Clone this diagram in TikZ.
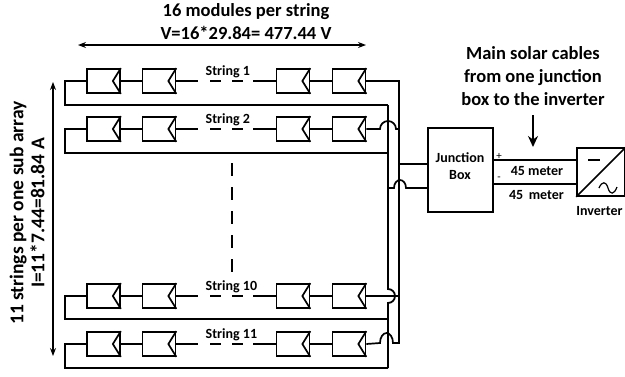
\documentclass[tikz,border=0pt]{standalone}
\usepackage{fontspec}
\setmainfont{Carlito}
\usetikzlibrary{arrows.meta}
\tikzset{
wire/.style = {line width = 1.7pt},
bus/.style = {line width = 1.8pt},
module/.style = {shape = rectangle, draw, line width = 1.7pt, minimum width = 33pt, minimum height = 24pt, inner sep = 0pt},
span/.style = {line width = 1.1pt, {Stealth[length = 8pt, width = 6pt]}-{Stealth[length = 8pt, width = 6pt]}},
title/.style = {font = \bfseries\fontsize{18.5}{23}\selectfont, align = center},
small/.style = {font = \bfseries\fontsize{14}{17}\selectfont, align = center}
}
\newcommand{\Module}[3]{
\node[module] (#1) at (#2, #3) {};
\draw[wire] (#1.north east) -- ([xshift = -8pt]#1.east) -- (#1.south east);
}
\begin{document}
\begin{tikzpicture}[x = 1pt, y = -1pt]
\useasboundingbox (0, 0) rectangle (625, 376);
% strings: name, row centre, label centre, return line
\foreach \n/\y/\ly/\r/\s in {a/81/72/105/1, b/129/120/153/2, c/296/287/319/10, d/344/335/368/11} {
\Module{\n1}{103.5}{\y}
\Module{\n2}{159}{\y}
\Module{\n3}{293}{\y}
\Module{\n4}{349}{\y}
\draw[wire] (\n1) -- (\n2);
\draw[wire] (\n3) -- (\n4);
\draw[wire] (\n2.east) -- (198, \y);
\draw[wire] (253, \y) -- (\n3.west);
\draw[wire] (210, \y) -- (221, \y) (232, \y) -- (243, \y);
\node[small, anchor = west, inner xsep = 0pt] (label\n) at (205.5, \ly) {String \s};
\draw[wire] (\n1.west) -- (65, \y) -- (65, \r) -- (388, \r);
}
\node[module, minimum width = 65pt, minimum height = 84pt] (jbox) at (460.5, 170) {};
\node[small, align = center] (jtext) at (460, 166.5) {Junction\\Box};
\node[shape = rectangle, draw, line width = 1.7pt, minimum width = 48pt, minimum height = 48pt, inner sep = 0pt] (inv) at (601, 172) {};
\coordinate (plus) at (jbox.east |- 0, 160);
\coordinate (minus) at (jbox.east |- 0, 184);
% bus lines and line hops
\draw[bus] (a4.east) -- (399, 81) -- (399, 343) -- (393, 343);
\draw[bus] (388, 105) -- (388, 289) arc[start angle = -90, end angle = 90, radius = 7] -- (388, 368);
\draw[wire] (b4.east) -- (380, 129) arc[start angle = 180, end angle = 360, radius = 8] -- (399, 129);
\draw[wire] (c4.east) -- (399, 296);
\draw[wire] (d4.east) -- (380, 343) arc[start angle = 180, end angle = 360, x radius = 6.5, y radius = 10] -- (399, 343);
\draw[wire] (399, 164) -- (jbox.west |- 0, 164);
\draw[wire] (388, 188) -- (394, 188) arc[start angle = 180, end angle = 360, x radius = 6, y radius = 8] -- (jbox.west |- 0, 188);
% cables
\draw[bus] (plus) -- (inv.west |- plus);
\draw[bus] (minus) -- (inv.west |- minus);
\node[font = \fontsize{11}{12}\selectfont] (plustext) at (499, 156) {+};
\node[font = \fontsize{11}{12}\selectfont] (minustext) at (499, 179) {-};
\node[small] (cablea) at (537, 171) {45 meter};
\node[small] (cableb) at (536.5, 195) {45\, meter};
% inverter symbol
\draw[wire] (inv.south west) -- (inv.north east);
\draw[wire] (588, 160) -- (600, 160);
\draw[line width = 1.2pt] (599, 188) .. controls (602, 181) and (606, 181) .. (608, 188) .. controls (610, 195) and (614, 195) .. (617, 187);
\node[small] (invtext) at (599.5, 211) {Inverter};
% dimensions
\coordinate (tl) at (78, 45);
\coordinate (tr) at (366, 45);
\coordinate (lt) at (53, 82);
\coordinate (lb) at (53, 356);
\draw[span] (tl) -- (tr);
\draw[span] (lt) -- (lb);
\node[title] (toptext) at (246, 22) {16 modules per string\\V=16*29.84= 477.44 V};
\node[title, rotate = 90, font = \bfseries\fontsize{19.5}{21}\selectfont] (lefttext) at (27, 213) {11 strings per one sub array\\I=11*7.44=81.84 A};
\node[title] (cabletext) at (533, 76) {Main solar cables\\from one junction\\box to the inverter};
\coordinate (ca) at (533, 115);
\coordinate (cb) at (533, 147);
\draw[line width = 2.8pt, -{Stealth[length = 11pt, width = 10pt]}] (ca) -- (cb);
\draw[line width = 1.4pt, dash pattern = on 13pt off 11pt] (232, 163) -- (232, 272);
\end{tikzpicture}
\end{document}
